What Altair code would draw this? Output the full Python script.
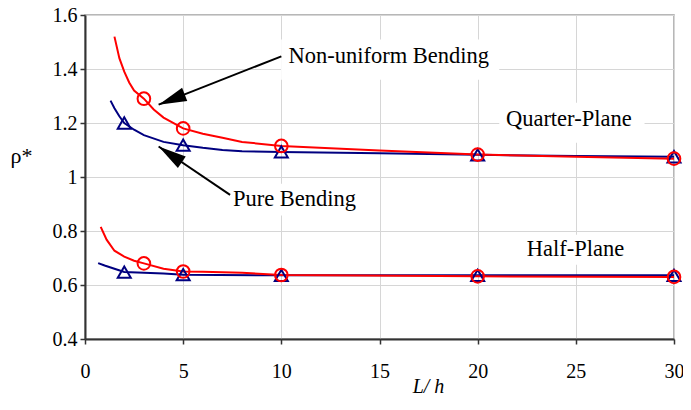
import math
import altair as alt
import pandas as pd

# ---------------- data ----------------
# Quarter-plane, non-uniform bending (red)
qn_x = [1.5, 1.75, 2.0, 2.25, 2.5, 3.0, 3.5, 4.0, 5.0, 6.0, 7.0, 8.0, 10.0, 15.0, 20.0, 25.0, 30.0]
qn_y = [1.52, 1.44, 1.39, 1.35, 1.32, 1.29, 1.25, 1.22, 1.18, 1.16, 1.145, 1.13, 1.115, 1.098, 1.083, 1.075, 1.068]
# Quarter-plane, pure bending (blue)
qp_x = [1.3, 1.5, 1.75, 2.0, 2.5, 3.0, 4.0, 5.0, 6.0, 7.0, 8.0, 10.0, 15.0, 20.0, 25.0, 30.0]
qp_y = [1.283, 1.255, 1.225, 1.20, 1.175, 1.155, 1.13, 1.118, 1.108, 1.10, 1.095, 1.093, 1.088, 1.082, 1.078, 1.075]
# Half-plane, non-uniform bending (red)
hn_x = [0.8, 1.1, 1.5, 2.0, 2.5, 3.0, 4.0, 5.0, 6.0, 8.0, 10.0, 20.0, 30.0]
hn_y = [0.815, 0.768, 0.727, 0.705, 0.69, 0.68, 0.66, 0.650, 0.649, 0.645, 0.637, 0.632, 0.630]
# Half-plane, pure bending (blue)
hp_x = [0.67, 1.0, 1.5, 2.0, 3.0, 4.0, 5.0, 10.0, 20.0, 30.0]
hp_y = [0.681, 0.672, 0.66, 0.648, 0.645, 0.643, 0.638, 0.636, 0.636, 0.636]

# markers
circ_x = [3, 5, 10, 20, 30]
q_circ_y = [1.29, 1.18, 1.115, 1.083, 1.068]
h_circ_y = [0.68, 0.650, 0.637, 0.632, 0.630]
tri_x = [2, 5, 10, 20, 30]
q_tri_y = [1.20, 1.118, 1.093, 1.082, 1.075]
h_tri_y = [0.648, 0.638, 0.636, 0.636, 0.636]

# annotations
label_text = ["Non-uniform Bending", "Quarter-Plane", "Pure Bending", "Half-Plane"]
label_x = [15.47, 24.64, 10.67, 24.98]
label_y = [1.45, 1.214, 0.920, 0.734]
box_x = [9.99, 21.1, 7.30, 22.0]
box_x2 = [21.1, 28.5, 14.0, 27.94]
box_y = [1.509, 1.275, 0.975, 0.786]
box_y2 = [1.360, 1.127, 0.857, 0.675]

arrow_tail_x = [10.0, 7.39]
arrow_tail_y = [1.447, 0.934]
arrow_tip_x = [3.75, 3.75]
arrow_tip_y = [1.268, 1.113]

x_ticks = [0, 5, 10, 15, 20, 25, 30]
y_ticks = [0.4, 0.6, 0.8, 1.0, 1.2, 1.4, 1.6]

# ---------------- layout ----------------
W, H = 589, 324
px_x = W / 30.0
px_y = H / 1.2
angles = []
for tx, ty, hx, hy in zip(arrow_tail_x, arrow_tail_y, arrow_tip_x, arrow_tip_y):
    dx = (hx - tx) * px_x
    dy = -(hy - ty) * px_y
    angles.append(math.degrees(math.atan2(dy, dx)) % 360)

RED = "#ff0000"
BLUE = "#000080"
FONT = "Liberation Serif"

xs = alt.Scale(domain=[0, 30], nice=False, zero=False)
ys = alt.Scale(domain=[0.4, 1.6], nice=False, zero=False)

x_enc = alt.X("x:Q", scale=xs, axis=alt.Axis(
    values=x_ticks, title="L/ h", titleFontStyle="italic", titleFont=FONT,
    titleFontSize=20, titleFontWeight="normal", titleX=343, titleY=53,
    titleBaseline="alphabetic", titleAlign="center", labelPadding=17,
    labelFlush=False, grid=True))
y_enc = alt.Y("y:Q", scale=ys, axis=alt.Axis(
    values=y_ticks, title="ρ*", titleAngle=0, titleFont=FONT, titleFontSize=22,
    titleFontWeight="normal", titleX=-64, titleY=140, titleBaseline="middle",
    titleAlign="center", labelPadding=3, labelFlush=False, grid=True,
    labelExpr="datum.value == 1 ? '1' : format(datum.value, '.1f')"))


def line_df(xv, yv):
    return pd.DataFrame({"x": xv, "y": yv})


boxes = alt.Chart(pd.DataFrame({"x": box_x, "x2": box_x2, "y": box_y, "y2": box_y2})).mark_rect(
    color="white").encode(x=x_enc, x2="x2:Q", y=y_enc, y2="y2:Q")

blue_q = alt.Chart(line_df(qp_x, qp_y)).mark_line(color=BLUE, strokeWidth=2).encode(x=x_enc, y=y_enc)
blue_h = alt.Chart(line_df(hp_x, hp_y)).mark_line(color=BLUE, strokeWidth=2).encode(x=x_enc, y=y_enc)
red_q = alt.Chart(line_df(qn_x, qn_y)).mark_line(color=RED, strokeWidth=2).encode(x=x_enc, y=y_enc)
red_h = alt.Chart(line_df(hn_x, hn_y)).mark_line(color=RED, strokeWidth=2).encode(x=x_enc, y=y_enc)

tri_df = pd.DataFrame({"x": tri_x + tri_x, "y": q_tri_y + h_tri_y})
circ_df = pd.DataFrame({"x": circ_x + circ_x, "y": q_circ_y + h_circ_y})
tris = alt.Chart(tri_df).mark_point(shape="triangle-up", filled=False, size=169,
                                    strokeWidth=2, color=BLUE, opacity=1).encode(x=x_enc, y=y_enc)
circs = alt.Chart(circ_df).mark_point(shape="circle", filled=False, size=160,
                                      strokeWidth=2, color=RED, opacity=1).encode(x=x_enc, y=y_enc)

arrow_df = pd.DataFrame({"x": arrow_tail_x, "y": arrow_tail_y,
                         "x2": arrow_tip_x, "y2": arrow_tip_y, "angle": angles})
arrow_lines = alt.Chart(arrow_df).mark_rule(color="black", strokeWidth=2).encode(
    x=x_enc, y=y_enc, x2="x2:Q", y2="y2:Q")
arrow_heads = alt.Chart(arrow_df).mark_point(
    shape="M0,0L-2,-0.5L-2,0.5Z", filled=True, size=784, color="black", opacity=1
).encode(x=alt.X("x2:Q", scale=xs), y=alt.Y("y2:Q", scale=ys),
         angle=alt.Angle("angle:Q", scale=None))

labels = alt.Chart(pd.DataFrame({"x": label_x, "y": label_y, "t": label_text})).mark_text(
    font=FONT, fontSize=22.5, color="black", align="center", baseline="middle"
).encode(x=x_enc, y=y_enc, text="t:N")

chart = alt.layer(
    boxes, blue_q, blue_h, red_q, red_h, tris, circs, arrow_lines, arrow_heads, labels
).properties(
    width=W, height=H,
    autosize=alt.AutoSizeParams(type="none"),
    padding={"left": 77, "top": 7, "right": 9, "bottom": 58},
    background="white",
).configure_view(
    stroke="#a0a0a0", strokeWidth=1.5
).configure_axis(
    domainColor="#333333", domainWidth=2, gridColor="#d6d6d6", gridWidth=1,
    tickColor="#333333", tickSize=5, tickWidth=1.5,
    labelFont=FONT, labelFontSize=20, labelColor="black", titleColor="black",
)

chart.save("out.html", embed_options={"renderer": "svg", "actions": False})
